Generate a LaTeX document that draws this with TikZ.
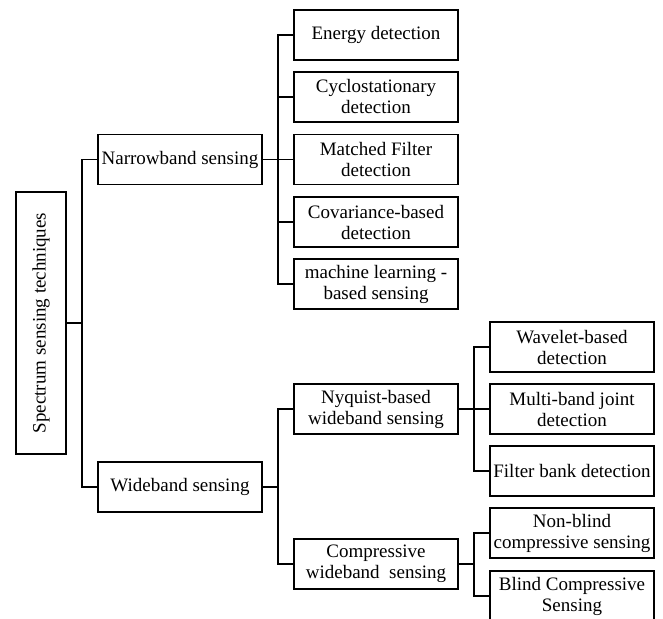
\documentclass[tikz,border=0pt]{standalone}
\usepackage{fontspec}
\setmainfont{Liberation Serif}
\begin{document}
\begin{tikzpicture}[x=1pt,y=-1pt,
  box/.style={draw, line width=1.8pt, minimum width=164pt, minimum height=50pt,
    inner sep=0pt, align=center, font=\fontsize{19}{21}\selectfont},
  conn/.style={line width=1.8pt}]
\useasboundingbox (0,0) rectangle (663,618);
% root
\node[box, rotate=90, minimum width=262pt] (root) at (41,323) {Spectrum sensing techniques};
% level 1
\node[box] (nb) at (180,159.5) {Narrowband sensing};
\node[box] (wb) at (180,487) {Wideband sensing};
% narrowband children
\node[box] (en) at (376,35) {Energy detection};
\node[box] (cy) at (376,97) {Cyclostationary\\detection};
\node[box] (mf) at (376,159.5) {Matched Filter\\detection};
\node[box] (cv) at (376,222) {Covariance-based\\detection};
\node[box] (ml) at (376,284) {machine learning -\\based sensing};
% wideband children
\node[box] (ny) at (376,409) {Nyquist-based\\wideband sensing};
\node[box] (cs) at (376,564) {Compressive\\wideband\ \ sensing};
% nyquist children
\node[box] (wv) at (572,347) {Wavelet-based\\detection};
\node[box] (mb) at (572,409) {Multi-band joint\\detection};
\node[box] (fb) at (572,471) {Filter bank detection};
% compressive children
\node[box] (nbl) at (572,533) {Non-blind\\compressive sensing};
\node[box] (bl) at (572,596) {Blind Compressive\\Sensing};
% junctions
\coordinate (j1) at (82,323);
\coordinate (j2) at (278,159.5);
\coordinate (j3) at (278,487);
\coordinate (j4) at (474,409);
\coordinate (j5) at (474,564);
% connectors
\draw[conn] (root.south) -- (j1);
\draw[conn] (j1) |- (nb.west);
\draw[conn] (j1) |- (wb.west);
\draw[conn] (nb.east) -- (j2);
\foreach \c in {en,cy,mf,cv,ml} \draw[conn] (j2) |- (\c.west);
\draw[conn] (wb.east) -- (j3);
\foreach \c in {ny,cs} \draw[conn] (j3) |- (\c.west);
\draw[conn] (ny.east) -- (j4);
\foreach \c in {wv,mb,fb} \draw[conn] (j4) |- (\c.west);
\draw[conn] (cs.east) -- (j5);
\foreach \c in {nbl,bl} \draw[conn] (j5) |- (\c.west);
\end{tikzpicture}
\end{document}
